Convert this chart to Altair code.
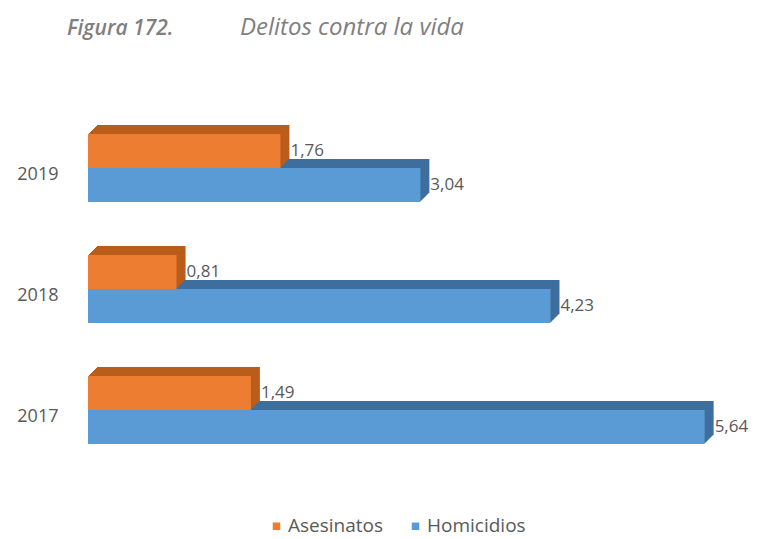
import altair as alt
import pandas as pd

# ---- data ----
years = ["2019", "2018", "2017"]
series = ["Asesinatos", "Homicidios"]
asesinatos = [1.76, 0.81, 1.49]
homicidios = [3.04, 4.23, 5.64]
title_a = ["Figura 172."]
title_b = ["Delitos contra la vida"]

# ---- styles ----
front_colors = ["#ED7D31", "#5B9BD5"]
side_colors = ["#BA5C1A", "#3D6E9D"]
FONT = "Open Sans"
TXT = "#595959"
BAR_H = 34
DEPTH = 9

rows = []
for y, a, h in zip(years, asesinatos, homicidios):
    rows.append({"year": y, "series": series[0], "value": a})
    rows.append({"year": y, "series": series[1], "value": h})
df = pd.DataFrame(rows)

x_scale = alt.Scale(domain=[0, 6], nice=False, zero=True)
y_scale = alt.Scale(domain=years, paddingInner=0, paddingOuter=0)
color_scale = alt.Scale(domain=series, range=front_colors)

base = alt.Chart(df).transform_calculate(
    label="replace(format(datum.value, '.2f'), '.', ',')"
)

X = alt.X("value:Q", scale=x_scale, axis=None)
Y = alt.Y(
    "year:N", scale=y_scale, sort=years, title=None,
    axis=alt.Axis(domain=False, ticks=False, labelPadding=30,
                  labelOffset=7, labelFont=FONT, labelFontSize=18,
                  labelColor=TXT, grid=False),
)

offsets = {series[0]: -BAR_H / 2, series[1]: BAR_H / 2}

layers = []
# shadow (top + side faces), blue first then orange
for s_idx in [1, 0]:
    s = series[s_idx]
    for k in range(1, DEPTH + 1):
        layers.append(
            base.transform_filter(alt.datum.series == s)
            .mark_bar(height=BAR_H, xOffset=k, x2Offset=k,
                      yOffset=offsets[s] - k, color=side_colors[s_idx])
            .encode(x=X, y=Y)
        )

# front faces
for s_idx in [1, 0]:
    s = series[s_idx]
    layers.append(
        base.transform_filter(alt.datum.series == s)
        .mark_bar(height=BAR_H, yOffset=offsets[s])
        .encode(
            x=X, y=Y,
            color=alt.Color(
                "series:N", scale=color_scale,
                legend=alt.Legend(
                    title=None, orient="none", legendX=179, legendY=409,
                    direction="horizontal", symbolType="square",
                    symbolSize=56, symbolStrokeWidth=0, labelFont=FONT,
                    labelFontSize=19, labelColor=TXT, columnPadding=22,
                    labelOffset=2,
                ),
            ),
        )
    )

# value labels
for s_idx in [0, 1]:
    s = series[s_idx]
    layers.append(
        base.transform_filter(alt.datum.series == s)
        .mark_text(align="left", baseline="middle", dx=DEPTH + 1,
                   dy=offsets[s], font=FONT, fontSize=17, color=TXT)
        .encode(x=X, y=Y, text="label:N")
    )

# title texts
layers.append(
    alt.Chart(pd.DataFrame({"t": title_a}))
    .mark_text(align="left", baseline="alphabetic", font=FONT, fontSize=21,
               fontStyle="italic", fontWeight=600, color="#7F7F7F")
    .encode(x=alt.value(-21), y=alt.value(-73), text="t:N")
)
layers.append(
    alt.Chart(pd.DataFrame({"t": title_b}))
    .mark_text(align="left", baseline="alphabetic", font=FONT, fontSize=24,
               fontStyle="italic", color="#7F7F7F")
    .encode(x=alt.value(152), y=alt.value(-73), text="t:N")
)

chart = (
    alt.layer(*layers)
    .properties(
        width=656, height=363,
        background="white",
        autosize=alt.AutoSizeParams(type="none"),
        padding={"left": 80, "top": 99.5, "right": 6, "bottom": 68.5},
    )
    .configure_view(strokeWidth=0, stroke=None)
)

chart.save("out.html", embed_options={"renderer": "svg", "actions": False})
